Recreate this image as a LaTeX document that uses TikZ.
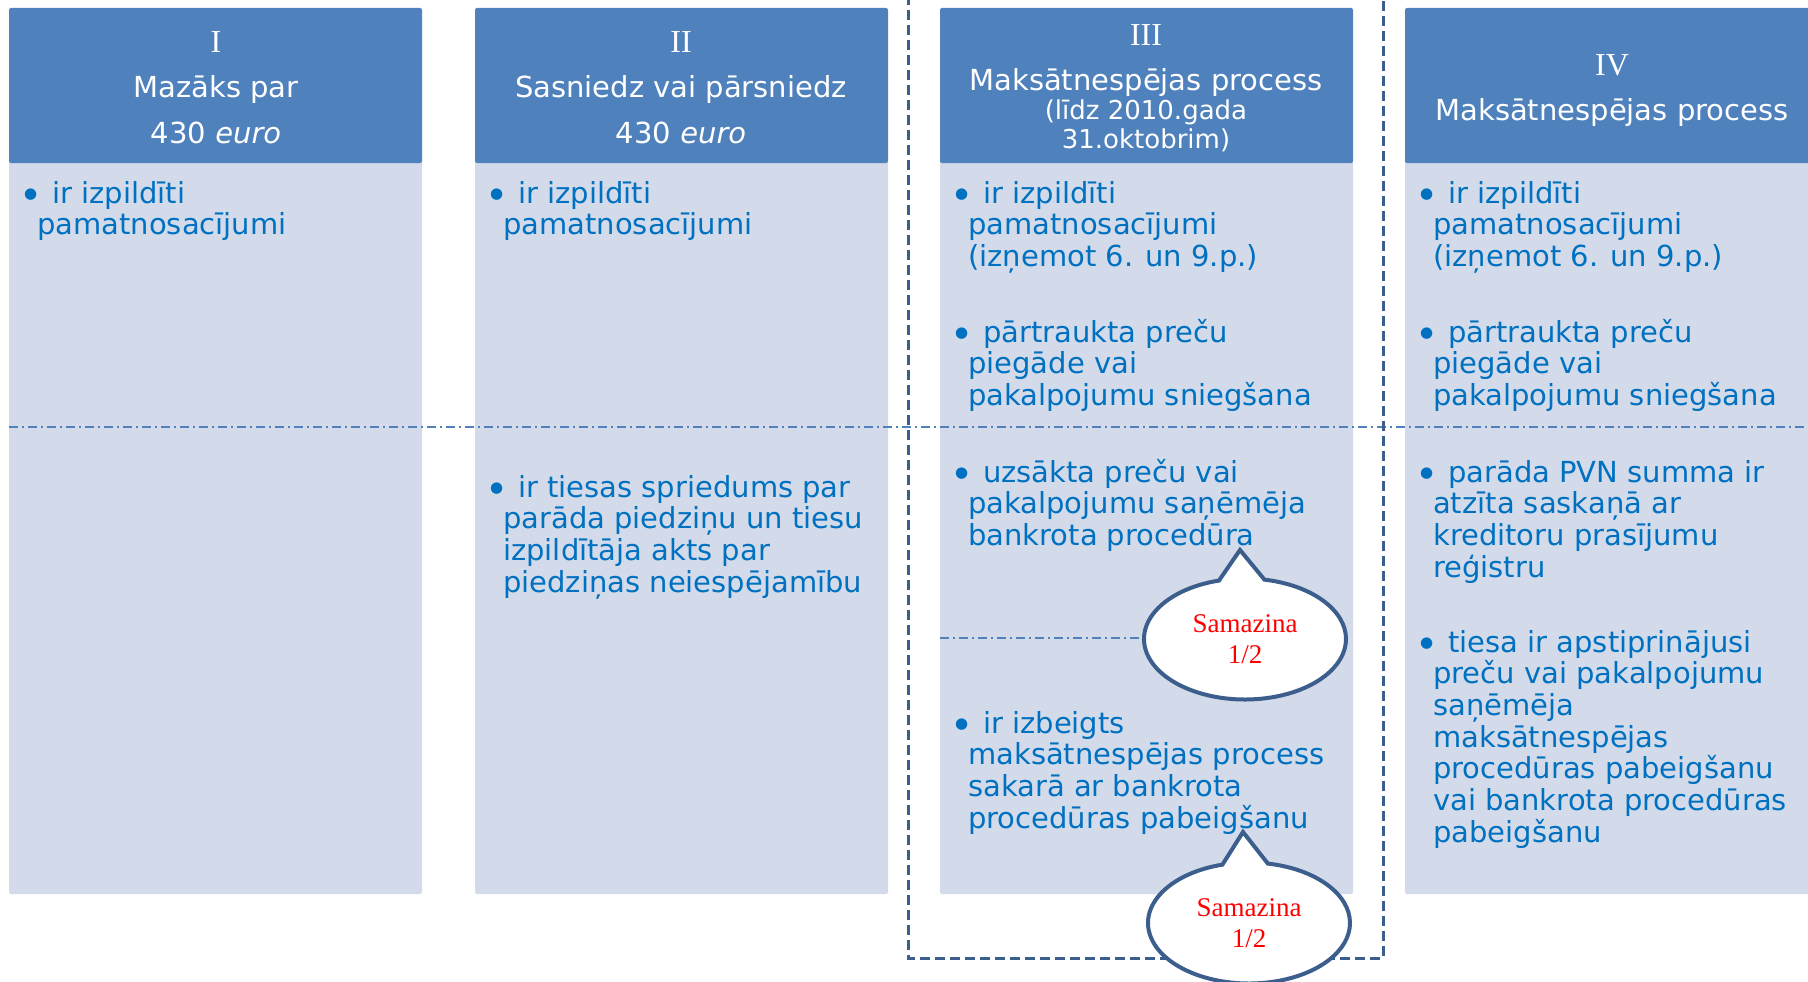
\documentclass[tikz,border=0pt]{standalone}
\usepackage{fontspec}
\setmainfont{DejaVu Sans}
\newfontfamily\romfont{Liberation Serif}
\usetikzlibrary{shapes.callouts}
\usetikzlibrary{positioning}

\definecolor{hdrblue}{RGB}{79,129,189}
\definecolor{cellblue}{RGB}{211,219,234}
\definecolor{itemblue}{RGB}{0,112,192}
\definecolor{frameblue}{RGB}{59,94,140}

\tikzset{
  hdrbox/.style={fill=hdrblue, rounded corners=2pt},
  cellbox/.style={fill=cellblue, rounded corners=2pt},
  hdrtext/.style={anchor=base, text=white, inner sep=0pt, font=\fontsize{29}{35}\selectfont},
  subtext/.style={hdrtext, font=\fontsize{26}{29}\selectfont},
  romtext/.style={hdrtext, font=\romfont\fontsize{32}{35}\selectfont},
  itemtext/.style={anchor=base west, text=itemblue, inner sep=0pt, font=\fontsize{29}{31.7}\selectfont},
  sepline/.style={hdrblue, line width=1.5pt, dash pattern=on 9pt off 4pt on 2pt off 4pt},
  cutbubble/.style={ellipse callout, draw=frameblue, line width=4pt, fill=white,
    minimum width=202pt, minimum height=121pt, callout pointer arc=26,
    text=red, align=center, inner sep=0pt, font=\romfont\fontsize{27}{31}\selectfont}
}
\newcommand{\bul}[1]{\parbox[t]{400pt}{\raggedright\leavevmode
  \llap{\raisebox{5pt}{\fontsize{15}{15}\selectfont●}}\hspace{15pt}#1}}

\begin{document}
\begin{tikzpicture}[x=1pt, y=-1pt]
  \useasboundingbox (0,0) rectangle (1808,982);
  \clip (0,0) rectangle (1808,982);

  % columns
  \foreach \cx in {9, 475, 940, 1405} {
    \fill[cellbox] (\cx,160) rectangle ++(413,734);
    \fill[hdrbox] (\cx,8) rectangle ++(413,155);
  }

  % headers
  \node[romtext] (h1num) at (216,53) {I};
  \node[hdrtext] (h1a) at (216,98) {Mazāks par};
  \node[hdrtext] (h1b) at (216,143) {430 \textit{euro}};

  \node[romtext] (h2num) at (681,53) {II};
  \node[hdrtext] (h2a) at (681,98) {Sasniedz vai pārsniedz};
  \node[hdrtext] (h2b) at (681,143) {430 \textit{euro}};

  \node[romtext] (h3num) at (1146,46) {III};
  \node[hdrtext] (h3a) at (1146,90) {Maksātnespējas process};
  \node[subtext] (h3b) at (1146,119) {(līdz 2010.gada};
  \node[subtext] (h3c) at (1146,148) {31.oktobrim)};

  \node[romtext] (h4num) at (1612,75) {IV};
  \node[hdrtext] (h4a) at (1612,120) {Maksātnespējas process};

  % items
  \node[itemtext] (i1a) at (37,203) {\bul{ir izpildīti\\pamatnosacījumi}};

  \node[itemtext] (i2a) at (503,203) {\bul{ir izpildīti\\pamatnosacījumi}};
  \node[itemtext] (i2b) at (503,497) {\bul{ir tiesas spriedums par\\parāda piedziņu un tiesu\\izpildītāja akts par\\piedziņas neiespējamību}};

  \node[itemtext] (i3a) at (968,203) {\bul{ir izpildīti\\pamatnosacījumi\\(izņemot 6. un 9.p.)}};
  \node[itemtext] (i3b) at (968,342) {\bul{pārtraukta preču\\piegāde vai\\pakalpojumu sniegšana}};
  \node[itemtext] (i3c) at (968,482) {\bul{uzsākta preču vai\\pakalpojumu saņēmēja\\bankrota procedūra}};
  \node[itemtext] (i3d) at (968,733) {\bul{ir izbeigts\\maksātnespējas process\\sakarā ar bankrota\\procedūras pabeigšanu}};

  \node[itemtext] (i4a) at (1433,203) {\bul{ir izpildīti\\pamatnosacījumi\\(izņemot 6. un 9.p.)}};
  \node[itemtext] (i4b) at (1433,342) {\bul{pārtraukta preču\\piegāde vai\\pakalpojumu sniegšana}};
  \node[itemtext] (i4c) at (1433,482) {\bul{parāda PVN summa ir\\atzīta saskaņā ar\\kreditoru prasījumu\\reģistru}};
  \node[itemtext] (i4d) at (1433,652) {\bul{tiesa ir apstiprinājusi\\preču vai pakalpojumu\\saņēmēja\\maksātnespējas\\procedūras pabeigšanu\\vai bankrota procedūras\\pabeigšanu}};

  % dividers and frame
  \draw[sepline] (9,427) -- (1820,427);
  \draw[frameblue, line width=3pt, dash pattern=on 10pt off 5pt] (908,-20) rectangle (1383,958);

  % callouts
  \coordinate (tip1) at (1240,550);
  \coordinate (tip2) at (1243,832);
  \coordinate (sepstart) at (940,638);
  \node[cutbubble, callout absolute pointer={(tip1)}] (cut1) at (1245,639) {Samazina\\1/2};
  \node[cutbubble, callout absolute pointer={(tip2)}] (cut2) at (1249,923) {Samazina\\1/2};
  \draw[sepline] (sepstart) -- (sepstart -| cut1.west);
\end{tikzpicture}
\end{document}
